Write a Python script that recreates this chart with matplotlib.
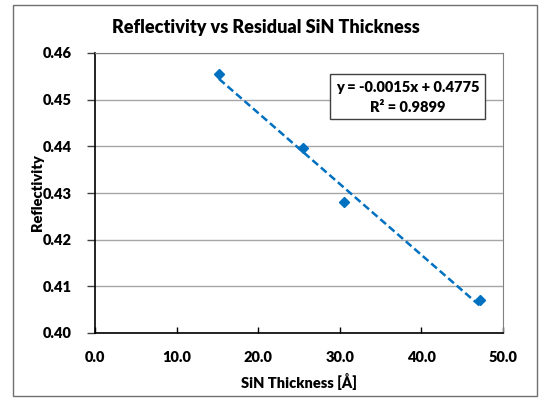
import matplotlib
matplotlib.use("Agg")
import matplotlib.pyplot as plt
from matplotlib.patches import Rectangle
import numpy as np

# Data
thickness = [15.2, 25.5, 30.5, 47.2]
reflectivity = [0.4555, 0.4396, 0.4281, 0.4070]
x_ticks = [0.0, 10.0, 20.0, 30.0, 40.0, 50.0]
y_ticks = [0.40, 0.41, 0.42, 0.43, 0.44, 0.45, 0.46]
title = "Reflectivity vs Residual SiN Thickness"
xlabel = "SiN Thickness [Å]"
ylabel = "Reflectivity"
eq_text = "y = -0.0015x + 0.4775"
r2_text = "R² = 0.9899"

plt.rcParams['font.family'] = ['Lato', 'DejaVu Sans']
WT = 'heavy'

W, H = 539, 398
fig = plt.figure(figsize=(W / 100, H / 100), dpi=100)

def fx(x):
    return x / W

def fy(y):
    return 1 - y / H

# outer chart border
fig.patches.append(Rectangle((fx(13), fy(396)), fx(537) - fx(13), fy(5) - fy(396),
                             transform=fig.transFigure, fill=False,
                             edgecolor='#6f6f6f', linewidth=1.0))

L, R, T, B = 95, 503, 53, 333
ax = fig.add_axes([fx(L), fy(B), fx(R) - fx(L), fy(T) - fy(B)])

ax.set_xlim(0, 50)
ax.set_ylim(0.40, 0.46)
ax.set_xticks(x_ticks)
ax.set_yticks(y_ticks)
ax.set_xticklabels([f"{v:.1f}" for v in x_ticks])
ax.set_yticklabels([f"{v:.2f}" for v in y_ticks])
ax.tick_params(axis='x', direction='in', length=4, width=1, color='black',
               labelsize=10.5, pad=13)
ax.tick_params(axis='y', direction='out', length=6, width=1, color='#404040',
               labelsize=10.5, pad=11)
for lab in ax.get_xticklabels() + ax.get_yticklabels():
    lab.set_fontweight(WT)

ax.grid(axis='y', color='#a6a6a6', linewidth=1.0)
ax.set_axisbelow(True)
ax.spines['left'].set_color('black')
ax.spines['bottom'].set_color('black')
ax.spines['left'].set_linewidth(1.2)
ax.spines['bottom'].set_linewidth(1.2)
ax.spines['top'].set_color('#808080')
ax.spines['right'].set_color('#808080')

# trendline
coef = np.polyfit(thickness, reflectivity, 1)
xs = np.array([min(thickness), max(thickness)])
ax.plot(xs, np.polyval(coef, xs), linestyle=(0, (3, 1.5)), color='#0070c0',
        linewidth=1.8, zorder=3)
ax.plot(thickness, reflectivity, linestyle='none', marker='D', markersize=5.5,
        color='#0070c0', zorder=4)

fig.text(fx(266), fy(28), title, ha='center', va='center', fontsize=13,
         fontweight=WT)
ax.set_xlabel(xlabel, fontsize=10.5, fontweight=WT, va='center')
ax.set_ylabel(ylabel, fontsize=10.5, fontweight=WT, va='center')
ax.xaxis.set_label_coords(0.5, (B - 382) / (B - T))
ax.yaxis.set_label_coords((37 - L) / (R - L), 0.5)

# equation box
fig.patches.append(Rectangle((fx(330), fy(119)), fx(485) - fx(330), fy(74) - fy(119),
                             transform=fig.transFigure, facecolor='white',
                             edgecolor='#404040', linewidth=1.0, zorder=5))
fig.text(fx(407.5), fy(88), eq_text, ha='center', va='center', fontsize=10.5,
         fontweight=WT, zorder=6)
fig.text(fx(407.5), fy(108), r2_text, ha='center', va='center', fontsize=10.5,
         fontweight=WT, zorder=6)

fig.savefig("out.png", dpi=100)
